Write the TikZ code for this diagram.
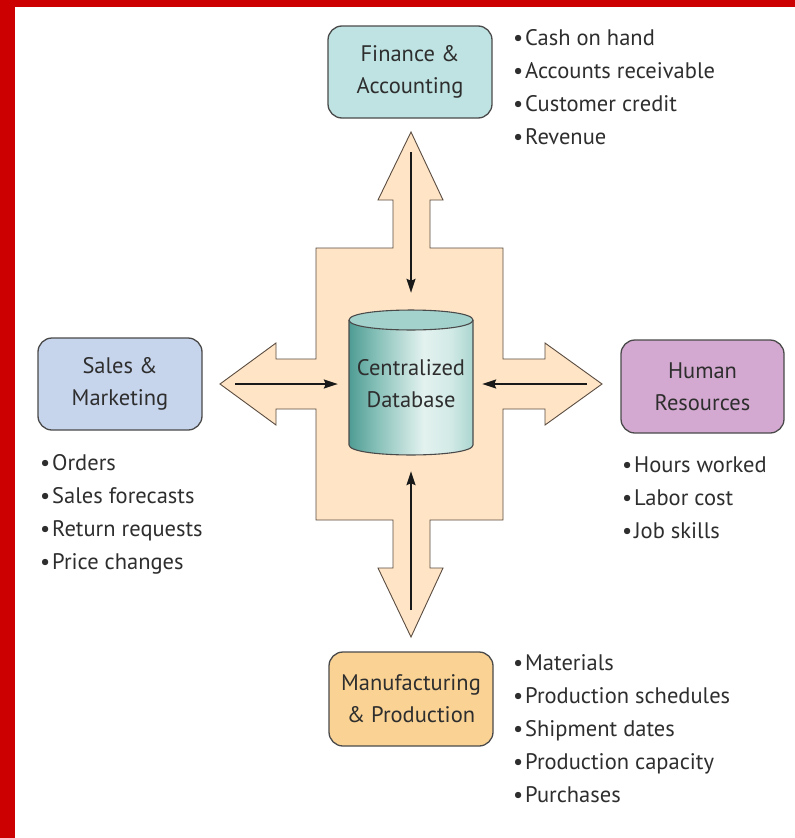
\documentclass[tikz,border=0pt]{standalone}
\usepackage{fontspec}
\setmainfont{PT Sans}
\usetikzlibrary{arrows.meta}

\definecolor{frame}{HTML}{CC0000}
\definecolor{txt}{HTML}{2E2E2E}
\definecolor{boxline}{HTML}{4A4A4A}
\definecolor{finfill}{HTML}{BEE3E2}
\definecolor{salesfill}{HTML}{C6D4EC}
\definecolor{hrfill}{HTML}{D4A9D1}
\definecolor{mfgfill}{HTML}{FAD394}
\definecolor{crossfill}{HTML}{FFE5C6}
\definecolor{crossline}{HTML}{5A4C40}
\definecolor{dbA}{HTML}{4F9C94}
\definecolor{dbB}{HTML}{86C0B8}
\definecolor{dbC}{HTML}{E3F2EF}
\definecolor{dbD}{HTML}{D2EAE6}
\definecolor{dbE}{HTML}{ABD6D0}
\definecolor{dbtop}{HTML}{A3D2CC}

\pgfdeclarehorizontalshading{dbshade}{100bp}{%
  color(0bp)=(dbA); color(25bp)=(dbA); color(36bp)=(dbB);
  color(55bp)=(dbC); color(66bp)=(dbD); color(75bp)=(dbE); color(100bp)=(dbE)}

\newcommand{\itm}{\makebox[12pt][l]{\textbullet}}

\tikzset{
  every node/.style={text=txt, font=\fontsize{22.5}{32}\selectfont},
  unitbox/.style={draw=boxline, line width=1.3pt, rounded corners=14pt,
    minimum width=164pt, minimum height=92pt, align=center, inner sep=0pt},
  itemlist/.style={align=left, anchor=west, inner sep=0pt,
    font=\fontsize{22.5}{33}\selectfont},
  bigarrow/.style={fill=crossfill, draw=crossline, line width=0.9pt, line join=miter},
  flow/.style={draw=black!90, line width=1.5pt,
    -{Stealth[length=14pt, width=9pt, inset=2pt]}}
}

\begin{document}
\begin{tikzpicture}[x=1pt, y=-1pt]
\useasboundingbox (0,0) rectangle (795,838);
\fill[white] (0,0) rectangle (795,838);

% frame strips
\fill[frame] (0,0) rectangle (15,838);
\fill[frame] (0,0) rectangle (795,7);

% four-way arrow around the database
\draw[bigarrow]
  (411,132) -- (443,200) -- (430,200) -- (430,248) -- (503,248) -- (503,359)
  -- (545,359) -- (545,343) -- (602,384) -- (545,425) -- (545,409) -- (503,409)
  -- (503,520) -- (430,520) -- (430,568) -- (443,568) -- (411,637) -- (378,568)
  -- (393,568) -- (393,520) -- (316,520) -- (316,409) -- (276,409) -- (276,425)
  -- (220,384) -- (276,343) -- (276,359) -- (316,359) -- (316,248) -- (393,248)
  -- (393,200) -- (378,200) -- cycle;

% database cylinder
\shade[shading=dbshade]
  (349,320) -- (349,445) .. controls (349,458.3) and (473,458.3) .. (473,445)
  -- (473,320) -- cycle;
\draw[boxline, line width=1.1pt]
  (349,320) -- (349,445) .. controls (349,458.3) and (473,458.3) .. (473,445)
  -- (473,320);
\draw[boxline, line width=1.1pt, fill=dbtop]
  (349,320) .. controls (349,306.7) and (473,306.7) .. (473,320)
  .. controls (473,333.3) and (349,333.3) .. (349,320) -- cycle;
\node[minimum width=124pt, minimum height=148pt, inner sep=0pt, align=center]
  (db) at (411,384) {Centralized\\Database};

% business units
\node[unitbox, fill=finfill]   (fin)   at (410,72)    {Finance \&\\Accounting};
\node[unitbox, fill=salesfill] (sales) at (120,384)   {Sales \&\\Marketing};
\node[unitbox, fill=hrfill, minimum width=163pt, minimum height=93pt]
                               (hr)    at (702.5,386.5) {Human\\Resources};
\node[unitbox, fill=mfgfill, minimum height=94pt]
                               (mfg)   at (411,699)   {Manufacturing\\\& Production};

% data items of each unit
\node[itemlist] (finlist) at (513,87.5)
  {\itm Cash on hand\\\itm Accounts receivable\\\itm Customer credit\\\itm Revenue};
\node[itemlist] (saleslist) at (40,514)
  {\itm Orders\\\itm Sales forecasts\\\itm Return requests\\\itm Price changes};
\node[itemlist] (hrlist) at (622,497.5)
  {\itm Hours worked\\\itm Labor cost\\\itm Job skills};
\node[itemlist] (mfglist) at (513,729)
  {\itm Materials\\\itm Production schedules\\\itm Shipment dates\\\itm Production capacity\\\itm Purchases};

% data flows into the database
\coordinate (finin)   at (411,152);
\coordinate (mfgin)   at (411,610);
\coordinate (salesin) at (235,384);
\coordinate (hrin)    at (587,384);
\draw[flow, shorten >=17pt] (finin) -- (db.north);
\draw[flow, shorten >=13pt] (mfgin) -- (db.south);
\draw[flow, shorten >=11pt] (salesin) -- (salesin -| db.west);
\draw[flow, shorten >=9pt]  (hrin) -- (hrin -| db.east);
\end{tikzpicture}
\end{document}
